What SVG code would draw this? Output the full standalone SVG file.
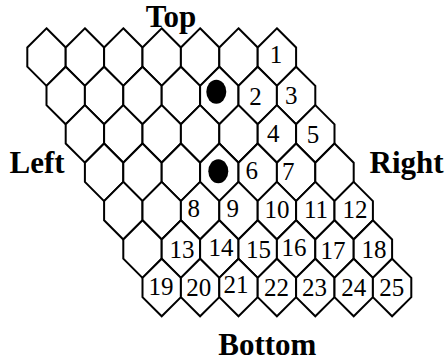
<svg xmlns="http://www.w3.org/2000/svg" xmlns:xlink="http://www.w3.org/1999/xlink" width="448" height="362" viewBox="0 0 448 362">
<style>
.cell{fill:#fff;stroke:#000;stroke-width:2;stroke-linejoin:miter}
.num{font-family:"Liberation Serif","Times New Roman",serif;font-size:25px;fill:#000;text-anchor:middle}
.side{font-family:"Liberation Serif","Times New Roman",serif;font-size:31px;font-weight:bold;fill:#000}
.stone{fill:#000}
</style>
<defs>
<polygon id="hex" class="cell" points="0,-28.8 19.2,-9.6 19.2,9.6 0,28.8 -19.2,9.6 -19.2,-9.6"/>
</defs>
<g id="board">
<g id="r0c0"><use xlink:href="#hex" href="#hex" x="46.5" y="57.1"/></g>
<g id="r0c1"><use xlink:href="#hex" href="#hex" x="84.9" y="57.1"/></g>
<g id="r0c2"><use xlink:href="#hex" href="#hex" x="123.3" y="57.1"/></g>
<g id="r0c3"><use xlink:href="#hex" href="#hex" x="161.7" y="57.1"/></g>
<g id="r0c4"><use xlink:href="#hex" href="#hex" x="200.1" y="57.1"/></g>
<g id="r0c5"><use xlink:href="#hex" href="#hex" x="238.5" y="57.1"/></g>
<g id="r0c6"><use xlink:href="#hex" href="#hex" x="276.9" y="57.1"/><text class="num" x="276" y="63">1</text></g>

<g id="r1c0"><use xlink:href="#hex" href="#hex" x="65.7" y="95.5"/></g>
<g id="r1c1"><use xlink:href="#hex" href="#hex" x="104.1" y="95.5"/></g>
<g id="r1c2"><use xlink:href="#hex" href="#hex" x="142.5" y="95.5"/></g>
<g id="r1c3"><use xlink:href="#hex" href="#hex" x="180.9" y="95.5"/></g>
<g id="r1c4"><use xlink:href="#hex" href="#hex" x="219.3" y="95.5"/><ellipse class="stone" cx="216.3" cy="91.7" rx="10" ry="12"/></g>
<g id="r1c5"><use xlink:href="#hex" href="#hex" x="257.7" y="95.5"/><text class="num" x="255.5" y="104.5">2</text></g>
<g id="r1c6"><use xlink:href="#hex" href="#hex" x="296.1" y="95.5"/><text class="num" x="291.2" y="103.5">3</text></g>

<g id="r2c0"><use xlink:href="#hex" href="#hex" x="84.9" y="133.9"/></g>
<g id="r2c1"><use xlink:href="#hex" href="#hex" x="123.3" y="133.9"/></g>
<g id="r2c2"><use xlink:href="#hex" href="#hex" x="161.7" y="133.9"/></g>
<g id="r2c3"><use xlink:href="#hex" href="#hex" x="200.1" y="133.9"/></g>
<g id="r2c4"><use xlink:href="#hex" href="#hex" x="238.5" y="133.9"/></g>
<g id="r2c5"><use xlink:href="#hex" href="#hex" x="276.9" y="133.9"/><text class="num" x="273.3" y="142">4</text></g>
<g id="r2c6"><use xlink:href="#hex" href="#hex" x="315.3" y="133.9"/><text class="num" x="313" y="143">5</text></g>

<g id="r3c0"><use xlink:href="#hex" href="#hex" x="104.1" y="172.3"/></g>
<g id="r3c1"><use xlink:href="#hex" href="#hex" x="142.5" y="172.3"/></g>
<g id="r3c2"><use xlink:href="#hex" href="#hex" x="180.9" y="172.3"/></g>
<g id="r3c3"><use xlink:href="#hex" href="#hex" x="219.3" y="172.3"/><ellipse class="stone" cx="218.3" cy="171.3" rx="10" ry="12"/></g>
<g id="r3c4"><use xlink:href="#hex" href="#hex" x="257.7" y="172.3"/><text class="num" x="251.7" y="178.5">6</text></g>
<g id="r3c5"><use xlink:href="#hex" href="#hex" x="296.1" y="172.3"/><text class="num" x="288.3" y="180">7</text></g>
<g id="r3c6"><use xlink:href="#hex" href="#hex" x="334.5" y="172.3"/></g>

<g id="r4c0"><use xlink:href="#hex" href="#hex" x="123.3" y="210.7"/></g>
<g id="r4c1"><use xlink:href="#hex" href="#hex" x="161.7" y="210.7"/></g>
<g id="r4c2"><use xlink:href="#hex" href="#hex" x="200.1" y="210.7"/><text class="num" x="193.7" y="216.7">8</text></g>
<g id="r4c3"><use xlink:href="#hex" href="#hex" x="238.5" y="210.7"/><text class="num" x="232.8" y="216.7">9</text></g>
<g id="r4c4"><use xlink:href="#hex" href="#hex" x="276.9" y="210.7"/><text class="num" x="277" y="218">10</text></g>
<g id="r4c5"><use xlink:href="#hex" href="#hex" x="315.3" y="210.7"/><text class="num" x="316" y="217.5">11</text></g>
<g id="r4c6"><use xlink:href="#hex" href="#hex" x="353.7" y="210.7"/><text class="num" x="355" y="217.5">12</text></g>

<g id="r5c0"><use xlink:href="#hex" href="#hex" x="142.5" y="249.1"/></g>
<g id="r5c1"><use xlink:href="#hex" href="#hex" x="180.9" y="249.1"/><text class="num" x="182" y="258">13</text></g>
<g id="r5c2"><use xlink:href="#hex" href="#hex" x="219.3" y="249.1"/><text class="num" x="221" y="256">14</text></g>
<g id="r5c3"><use xlink:href="#hex" href="#hex" x="257.7" y="249.1"/><text class="num" x="258.5" y="257.7">15</text></g>
<g id="r5c4"><use xlink:href="#hex" href="#hex" x="296.1" y="249.1"/><text class="num" x="294" y="256">16</text></g>
<g id="r5c5"><use xlink:href="#hex" href="#hex" x="334.5" y="249.1"/><text class="num" x="333" y="259">17</text></g>
<g id="r5c6"><use xlink:href="#hex" href="#hex" x="372.9" y="249.1"/><text class="num" x="374" y="257.5">18</text></g>

<g id="r6c0"><use xlink:href="#hex" href="#hex" x="161.7" y="287.5"/><text class="num" x="161" y="294.5">19</text></g>
<g id="r6c1"><use xlink:href="#hex" href="#hex" x="200.1" y="287.5"/><text class="num" x="198.8" y="296">20</text></g>
<g id="r6c2"><use xlink:href="#hex" href="#hex" x="238.5" y="287.5"/><text class="num" x="236" y="293">21</text></g>
<g id="r6c3"><use xlink:href="#hex" href="#hex" x="276.9" y="287.5"/><text class="num" x="276.5" y="296">22</text></g>
<g id="r6c4"><use xlink:href="#hex" href="#hex" x="315.3" y="287.5"/><text class="num" x="314.5" y="295.5">23</text></g>
<g id="r6c5"><use xlink:href="#hex" href="#hex" x="353.7" y="287.5"/><text class="num" x="353.7" y="296">24</text></g>
<g id="r6c6"><use xlink:href="#hex" href="#hex" x="392.1" y="287.5"/><text class="num" x="391.8" y="295.5">25</text></g>
</g>
<g id="connectors"/>
<g id="labels">
<text id="top" class="side" x="171" y="26.7" text-anchor="middle">Top</text>
<text id="left" class="side" x="9.5" y="173.3">Left</text>
<text id="right" class="side" x="369.5" y="173.3">Right</text>
<text id="bottom" class="side" x="267.3" y="355" text-anchor="middle">Bottom</text>
</g>
</svg>
